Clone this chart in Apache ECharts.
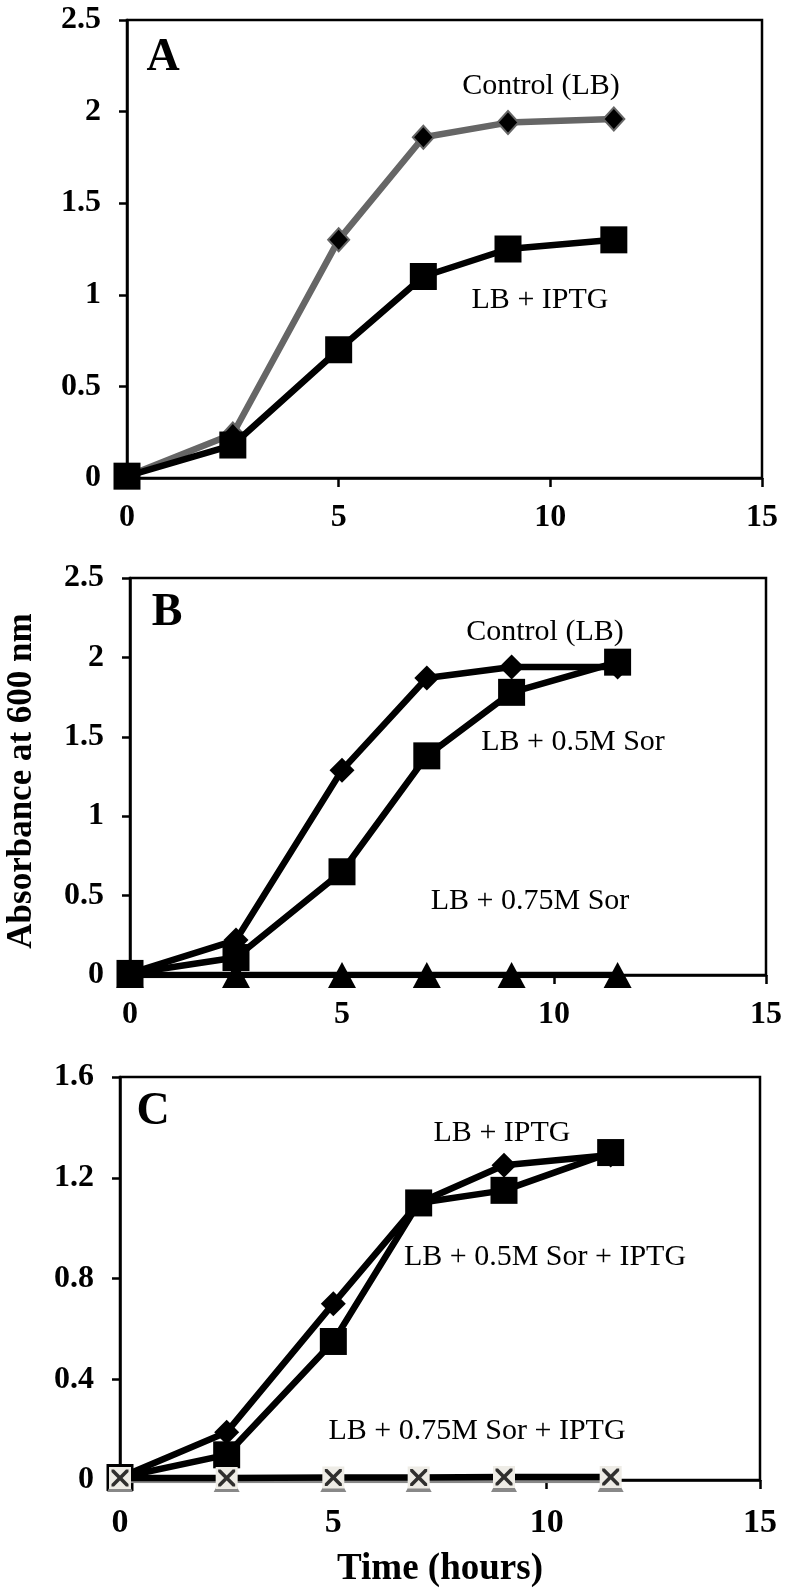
<!DOCTYPE html>
<html><head><meta charset="utf-8">
<script src="https://cdn.jsdelivr.net/npm/echarts@6/dist/echarts.min.js"></script>
<style>html,body{margin:0;padding:0;background:#fff}#c{width:786px;height:1589px}</style>
</head><body><div id="c"></div>
<script>
// Data
var timeHours = [0, 2.5, 5, 7, 9, 11.5];
var xTicks = [0, 5, 10, 15];
var yTicksAB = [0, 0.5, 1, 1.5, 2, 2.5];
var yTicksC = [0, 0.4, 0.8, 1.2, 1.6];

var aControl = [0.01, 0.24, 1.30, 1.86, 1.94, 1.96];
var aIPTG    = [0.01, 0.18, 0.70, 1.10, 1.25, 1.30];

var bControl = [0.01, 0.22, 1.29, 1.87, 1.94, 1.94];
var bSor05   = [0.01, 0.11, 0.65, 1.38, 1.78, 1.97];
var bSor075  = [0, 0, 0, 0, 0, 0];

var cIPTG       = [0.01, 0.19, 0.70, 1.10, 1.25, 1.29];
var cSor05IPTG  = [0.01, 0.10, 0.55, 1.10, 1.15, 1.30];
var cSor075     = [0, 0, 0, 0, 0, 0];
var cSor075IPTG = [0.008, 0.008, 0.01, 0.01, 0.012, 0.012];

function pts(ys){ return timeHours.map(function(t,i){ return [t, ys[i]]; }); }

var FONT = 'Liberation Serif';
var X_PATH = 'path://M0,0L3,0L10,7L17,0L20,0L20,3L13,10L20,17L20,20L17,20L10,13L3,20L0,20L0,17L7,10L0,3Z';

var grids = [
  {left:127, top:20, width:635, height:458},
  {left:130, top:578, width:636, height:397},
  {left:120, top:1077, width:640, height:403}
];

function xAx(i, fs, margin){
  return {type:'value', gridIndex:i, min:0, max:15, interval:5,
    axisLine:{show:true, lineStyle:{color:'#000', width:2.5}},
    axisTick:{show:true, inside:false, length:9, lineStyle:{color:'#000', width:2.5}},
    axisLabel:{show:true, color:'#000', fontFamily:FONT, fontWeight:'bold', fontSize:fs, margin:margin,
      formatter:function(v){ return xTicks.indexOf(v) >= 0 ? String(v) : ''; }},
    splitLine:{show:false}};
}
function yAx(i, max, interval, ticks){
  return {type:'value', gridIndex:i, min:0, max:max, interval:interval,
    axisLine:{show:true, lineStyle:{color:'#000', width:2.5}},
    axisTick:{show:true, inside:false, length:8, lineStyle:{color:'#000', width:2.5}},
    axisLabel:{show:true, color:'#000', fontFamily:FONT, fontWeight:'bold', fontSize:32, margin:26,
      formatter:function(v){ var r = Math.round(v*10)/10; return ticks.indexOf(r) >= 0 ? String(r) : ''; }},
    splitLine:{show:false}};
}

function line(i, data, lineColor, symbol, size, fill, border, bw, z){
  return {type:'line', xAxisIndex:i, yAxisIndex:i, data:pts(data), z:z||2,
    lineStyle:{color:lineColor, width:6.5}, symbol:symbol, symbolSize:size, showSymbol:true,
    itemStyle:{color:fill, borderColor:border||fill, borderWidth:bw||0, opacity:1},
    emphasis:{disabled:true}, animation:false};
}

var series = [
  // A
  line(0, aControl, '#666666', 'diamond', [21,23], '#000', '#666666', 2, 2),
  line(0, aIPTG, '#000', 'rect', 27, '#000', '#000', 0, 3),
  // B
  line(1, bSor075, '#000', 'triangle', [28,26], '#000', '#000', 0, 2),
  line(1, bControl, '#000', 'diamond', [25,25], '#000', '#000', 0, 3),
  line(1, bSor05, '#000', 'rect', 27, '#000', '#000', 0, 4),
  // C
  line(2, cIPTG, '#000', 'diamond', [25,25], '#000', '#000', 0, 2),
  line(2, cSor05IPTG, '#000', 'rect', 27, '#000', '#000', 0, 3),
  line(2, cSor075, '#888888', 'triangle', [26,24], '#888888', '#888888', 0, 4),
  line(2, cSor075IPTG, '#000', 'rect', 22, '#eeece6', '#eeece6', 0, 5),
  {type:'scatter', xAxisIndex:2, yAxisIndex:2, data:pts(cSor075IPTG), z:6,
    symbol:X_PATH, symbolSize:17, itemStyle:{color:'#000'}, emphasis:{disabled:true}, animation:false}
];

function ctext(cx, cy, s, size, bold){
  return {type:'text', x:cx, y:cy, style:{text:s, fill:'#000', font:(bold?'bold ':'')+size+'px "'+FONT+'"',
    align:'center', verticalAlign:'middle'}, z:10};
}

var graphics = [
  ctext(163, 58, 'A', 46, true),
  ctext(167, 613, 'B', 46, true),
  ctext(153, 1112, 'C', 46, true),
  ctext(541, 86, 'Control (LB)', 30, false),
  ctext(540, 300, 'LB + IPTG', 30, false),
  ctext(545, 632, 'Control (LB)', 30, false),
  ctext(573, 742, 'LB + 0.5M Sor', 30, false),
  ctext(530, 901, 'LB + 0.75M Sor', 30, false),
  ctext(502, 1133, 'LB + IPTG', 30, false),
  ctext(545, 1257, 'LB + 0.5M Sor + IPTG', 30, false),
  ctext(477, 1431, 'LB + 0.75M Sor + IPTG', 30, false),
  ctext(440, 1569, 'Time (hours)', 37, true),
  {type:'text', x:22, y:781, rotation:Math.PI/2,
    style:{text:'Absorbance at 600 nm', fill:'#000', font:'bold 35px "'+FONT+'"', align:'center', verticalAlign:'middle'}, z:10}
];

var chart = echarts.init(document.getElementById('c'), null, {renderer:'canvas'});
chart.setOption({
  animation:false,
  backgroundColor:'#fff',
  grid: grids.map(function(g){ return Object.assign({show:true, borderColor:'#000', borderWidth:2.5, backgroundColor:'transparent'}, g); }),
  xAxis:[xAx(0,32,24), xAx(1,32,24), xAx(2,34,26)],
  yAxis:[yAx(0,2.5,0.5,yTicksAB), yAx(1,2.5,0.5,yTicksAB), yAx(2,1.6,0.4,yTicksC)],
  series:series,
  graphic:graphics
});
</script></body></html>
